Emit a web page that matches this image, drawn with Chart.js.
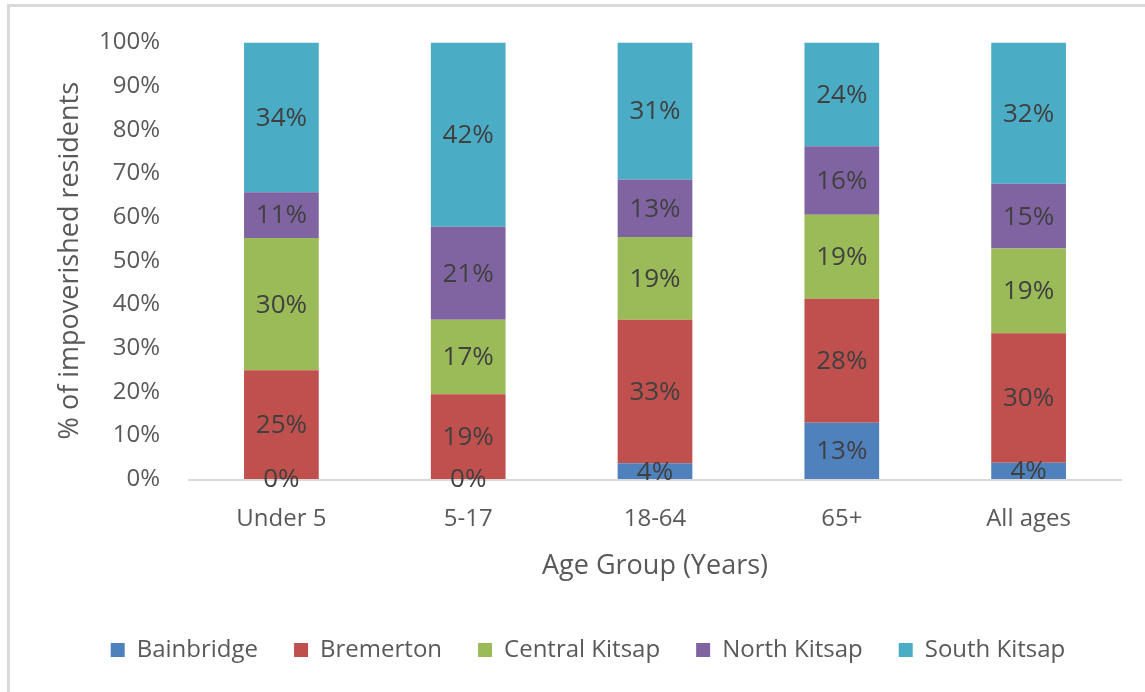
<!DOCTYPE html>
<html>
<head>
<meta charset="utf-8">
<script src="https://cdn.jsdelivr.net/npm/chart.js@4.4.1/dist/chart.umd.min.js"></script>
<style>
  html, body { margin: 0; padding: 0; background: #ffffff; overflow: hidden; }
  #frame { position: absolute; left: 7px; top: 4px; width: 1200px; height: 760px;
           border-left: 3px solid #d9d9d9; border-top: 3px solid #d9d9d9; }
  #wrap { position: absolute; left: 0; top: 0; width: 1145px; height: 692px; }
</style>
</head>
<body>
<div id="frame"></div>
<div id="wrap"><canvas id="c" width="1145" height="692"></canvas></div>
<script>
const categories = ["Under 5", "5-17", "18-64", "65+", "All ages"];
const seriesNames = ["Bainbridge", "Bremerton", "Central Kitsap", "North Kitsap", "South Kitsap"];
const bainbridge   = [0,    0,    3.6,  12.9, 3.7];
const bremerton    = [24.9, 19.4, 32.9, 28.4, 29.7];
const centralKitsap= [30.3, 17.1, 18.9, 19.2, 19.4];
const northKitsap  = [10.5, 21.25,13.2, 15.7, 14.8];
const southKitsap  = [34.3, 42.25,31.4, 23.8, 32.4];
const yTicks = [0, 10, 20, 30, 40, 50, 60, 70, 80, 90, 100];
const colors = ["#4F81BD", "#C0504D", "#9BBB59", "#8064A2", "#4BACC6"];

const seriesValues = [bainbridge, bremerton, centralKitsap, northKitsap, southKitsap];
const FONT = "'Open Sans', 'Liberation Sans', sans-serif";

const labelPlugin = {
  id: 'barLabels',
  afterDatasetsDraw(chart) {
    const ctx = chart.ctx;
    ctx.save();
    ctx.font = "26px " + FONT;
    ctx.fillStyle = "#404040";
    ctx.textAlign = "center";
    ctx.textBaseline = "middle";
    chart.data.datasets.forEach((ds, i) => {
      const meta = chart.getDatasetMeta(i);
      meta.data.forEach((el, j) => {
        const v = ds.data[j];
        const cy = (el.y + el.base) / 2;
        ctx.fillText(Math.round(v) + "%", el.x, cy + 1);
      });
    });
    ctx.restore();
  }
};

const xLine = {
  id: 'xLine',
  beforeDatasetsDraw(chart) {
    const a = chart.chartArea, ctx = chart.ctx;
    const y = chart.scales.y.getPixelForValue(0);
    ctx.save();
    ctx.strokeStyle = "#d9d9d9";
    ctx.lineWidth = 2;
    ctx.beginPath();
    ctx.moveTo(a.left, y + 1);
    ctx.lineTo(a.right, y + 1);
    ctx.stroke();
    ctx.restore();
  }
};

new Chart(document.getElementById('c'), {
  type: 'bar',
  data: {
    labels: categories,
    datasets: seriesNames.map((n, i) => ({
      label: n,
      data: seriesValues[i],
      backgroundColor: colors[i],
      borderWidth: 0,
      barPercentage: 0.4,
      categoryPercentage: 1.0
    }))
  },
  plugins: [labelPlugin, xLine],
  options: {
    responsive: false,
    animation: false,
    layout: { padding: { left: 54, right: 23, top: 41, bottom: 20 } },
    plugins: {
      tooltip: { enabled: false },
      legend: {
        position: 'bottom',
        labels: {
          boxWidth: 14, boxHeight: 14, padding: 36,
          color: "#595959",
          font: { family: FONT, size: 24 }
        }
      }
    },
    scales: {
      x: {
        stacked: true,
        grid: { display: false, drawTicks: false },
        border: { display: false },
        ticks: { color: "#595959", font: { family: FONT, size: 24 }, padding: 26 },
        title: { display: true, text: "Age Group (Years)", color: "#595959",
                 font: { family: FONT, size: 27 }, padding: { top: 0, bottom: 19 } },
        afterFit(s) { s.height = 123; }
      },
      y: {
        stacked: true,
        min: 0, max: 100,
        afterBuildTicks(s) { s.ticks = yTicks.map(v => ({ value: v })); },
        grid: { display: false, drawTicks: false },
        border: { display: false },
        ticks: { color: "#595959", font: { family: FONT, size: 24 }, padding: 28,
                 callback: v => v + "%" },
        title: { display: true, text: "% of impoverished residents", color: "#595959",
                 font: { family: FONT, size: 27 }, padding: { top: 0, bottom: 0 } },
        afterFit(s) { s.width = 134; }
      }
    }
  }
});
</script>
</body>
</html>
